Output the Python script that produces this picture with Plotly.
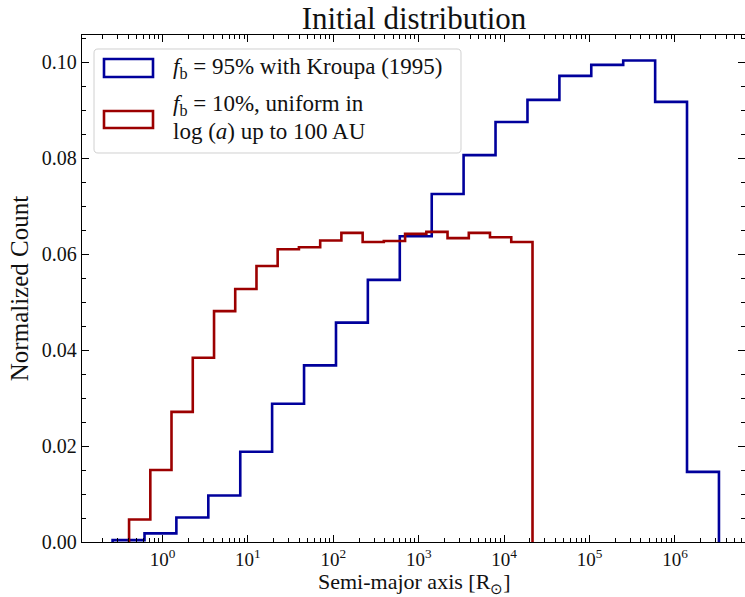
import numpy as np
import plotly.graph_objects as go

# ---------------- data ----------------
# log10 bin edges (semi-major axis in R_sun)
blue_log_edges = [-0.585, -0.211, 0.162, 0.536, 0.910, 1.283, 1.657, 2.031, 2.404, 2.778,
                  3.152, 3.525, 3.899, 4.273, 4.647, 5.020, 5.394, 5.768, 6.141, 6.515]
blue_counts = [0.0004, 0.0018, 0.0051, 0.0097, 0.0188, 0.0288, 0.0368, 0.0457, 0.0546, 0.0637,
               0.0725, 0.0806, 0.0875, 0.0921, 0.0971, 0.0994, 0.1003, 0.0917, 0.0146]

red_log_edges = [-0.392, -0.143, 0.105, 0.354, 0.603, 0.851, 1.100, 1.348, 1.597, 1.846,
                 2.094, 2.343, 2.591, 2.840, 3.089, 3.337, 3.586, 3.834, 4.083, 4.332]
red_counts = [0.0047, 0.0150, 0.0271, 0.0384, 0.0481, 0.0527, 0.0575, 0.0610, 0.0614, 0.0628,
              0.0644, 0.0625, 0.0627, 0.0642, 0.0646, 0.0633, 0.0644, 0.0635, 0.0625]

xtick_vals = [1, 10, 100, 1e3, 1e4, 1e5, 1e6]
xtick_text = ["10<sup>0</sup>", "10<sup>1</sup>", "10<sup>2</sup>", "10<sup>3</sup>",
              "10<sup>4</sup>", "10<sup>5</sup>", "10<sup>6</sup>"]
ytick_vals = [0.0, 0.02, 0.04, 0.06, 0.08, 0.10]

blue_label = "<i>f</i><sub>b</sub> = 95% with Kroupa (1995)"
red_label_1 = "<i>f</i><sub>b</sub> = 10%, uniform in"
red_label_2 = "log (<i>a</i>) up to 100 AU"
x_title = "Semi-major axis [R<sub>⊙</sub>]"

BLUE = "#00009c"
RED = "#9c0000"
FONT = "Liberation Serif"

W, H = 745, 597
ML, MR, MT, MB = 82, 0, 35, 55
PW, PH = W - ML - MR, H - MT - MB


def step_xy(log_edges, counts):
    e = [10 ** v for v in log_edges]
    xs = [e[0]] + e + [e[-1]]
    ys = [0] + list(counts) + [counts[-1], 0]
    return xs, ys


fig = go.Figure()
for edges, counts, col in [(blue_log_edges, blue_counts, BLUE), (red_log_edges, red_counts, RED)]:
    xs, ys = step_xy(edges, counts)
    fig.add_trace(go.Scatter(x=xs, y=ys, mode="lines", line=dict(color=col, width=2.6, shape="hv"),
                             showlegend=False, hoverinfo="skip"))


def px2paper(x, y):
    return (x - ML) / PW, (H - MB - y) / PH


def rounded_rect(x0, y0, x1, y1, r):
    def P(x, y):
        a, b = px2paper(x, y)
        return f"{a:.5f},{b:.5f}"
    return (f"M{P(x0 + r, y0)} L{P(x1 - r, y0)} Q{P(x1, y0)} {P(x1, y0 + r)} "
            f"L{P(x1, y1 - r)} Q{P(x1, y1)} {P(x1 - r, y1)} L{P(x0 + r, y1)} "
            f"Q{P(x0, y1)} {P(x0, y1 - r)} L{P(x0, y0 + r)} Q{P(x0, y0)} {P(x0 + r, y0)} Z")


shapes = [dict(type="path", xref="paper", yref="paper", path=rounded_rect(94, 49, 461, 153, 4),
               line=dict(color="#d0d0d0", width=1), fillcolor="rgba(255,255,255,0.8)", layer="above")]
for (y0, y1, col) in [(59, 77, BLUE), (111, 128, RED)]:
    a0, b0 = px2paper(104, y1)
    a1, b1 = px2paper(153, y0)
    shapes.append(dict(type="rect", xref="paper", yref="paper", x0=a0, x1=a1, y0=b0, y1=b1,
                       line=dict(color=col, width=2.6), fillcolor="rgba(0,0,0,0)", layer="above"))

annotations = []
for txt, yc in [(blue_label, 68), (red_label_1, 105), (red_label_2, 131)]:
    a, b = px2paper(171, yc)
    annotations.append(dict(text=txt, x=a, y=b, xref="paper", yref="paper", xanchor="left",
                            yanchor="middle", showarrow=False, font=dict(family=FONT, size=23, color="#111")))
a, b = px2paper(414, 582.5)
annotations.append(dict(text=x_title, x=a, y=b, xref="paper", yref="paper", xanchor="center",
                        yanchor="middle", showarrow=False, borderpad=0,
                        font=dict(family=FONT, size=22, color="#111")))

fig.update_layout(
    width=W, height=H,
    margin=dict(l=ML, r=MR, t=MT, b=MB, pad=0),
    paper_bgcolor="white", plot_bgcolor="white",
    font=dict(family=FONT, size=20, color="#111"),
    title=dict(text="Initial distribution", x=414 / W, xanchor="center", y=1 - 18 / H,
               yanchor="middle", font=dict(family=FONT, size=31, color="#111")),
    shapes=shapes, annotations=annotations,
    xaxis=dict(type="log", range=[-0.943, 6.82], tickvals=xtick_vals, ticktext=xtick_text,
               ticks="inside", ticklen=7, tickwidth=1, tickcolor="black",
               showline=True, linecolor="black", linewidth=1.3, mirror="ticks",
               showgrid=False, zeroline=False,
               minor=dict(ticks="inside", ticklen=4, tickwidth=1, tickcolor="black", dtick="D1", showgrid=False),
               tickfont=dict(family=FONT, size=19)),
    yaxis=dict(range=[0, PH / 4800], tickvals=ytick_vals, tickformat=".2f",
               ticks="inside", ticklen=7, tickwidth=1, tickcolor="black",
               showline=True, linecolor="black", linewidth=1.3, mirror="ticks",
               showgrid=False, zeroline=False,
               minor=dict(ticks="inside", ticklen=4, tickwidth=1, tickcolor="black", dtick=0.005, showgrid=False),
               title=dict(text="Normalized Count", font=dict(family=FONT, size=25), standoff=6),
               tickfont=dict(family=FONT, size=20)),
)

fig.write_html("out.html")
